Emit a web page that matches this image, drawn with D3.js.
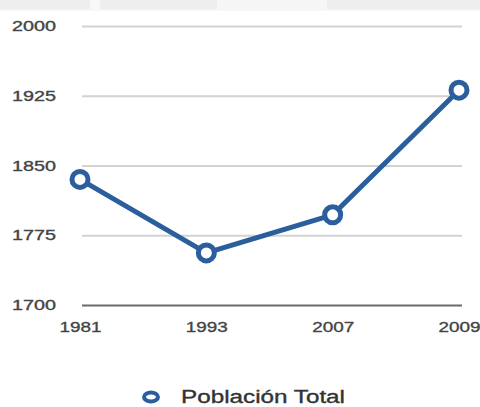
<!DOCTYPE html>
<html>
<head>
<meta charset="utf-8">
<script src="https://cdn.jsdelivr.net/npm/d3@7"></script>
<style>
  html, body { margin: 0; padding: 0; background: #fff; }
  svg { display: block; }
</style>
</head>
<body>
<svg id="chart" width="480" height="407"></svg>
<script>
// ---- data ----
const categories = ["1981", "1993", "2007", "2009"];
const poblacionTotal = [1835, 1756, 1797, 1931];
const yTicks = [1700, 1775, 1850, 1925, 2000];
const seriesName = "Población Total";

// ---- layout ----
const svg = d3.select("#chart");
const W = 480, H = 407;
const blue = "#2b5e9c";
const font = "'Liberation Sans', Arial, Helvetica, sans-serif";

// faint top band
const band = svg.append("g");
band.append("rect").attr("x", 0).attr("y", 0).attr("width", W).attr("height", 9).attr("fill", "#eeeeee");
band.append("rect").attr("x", 90).attr("y", 0).attr("width", 10).attr("height", 9).attr("fill", "#f8f8f8");
band.append("rect").attr("x", 217).attr("y", 0).attr("width", 110).attr("height", 9).attr("fill", "#f6f6f6");
band.append("rect").attr("x", 0).attr("y", 9).attr("width", W).attr("height", 2).attr("fill", "#f7f7f7");

const x = d3.scalePoint().domain(categories).range([80, 459]);
const y = d3.scaleLinear().domain([1700, 2000]).range([305, 26]);

// gridlines
const grid = svg.append("g")
  .attr("transform", "translate(82,0)")
  .call(d3.axisLeft(y).tickValues(yTicks).tickSize(-380).tickFormat(""));
grid.select(".domain").remove();
grid.selectAll(".tick line")
  .attr("stroke", d => d === 1700 ? "#6a6a6a" : "#d2d2d2")
  .attr("stroke-width", 2);

// y labels
const yLab = svg.append("g");
yTicks.forEach(t => {
  yLab.append("text")
    .attr("x", 12).attr("y", y(t) + 5)
    .attr("font-family", font).attr("font-size", 14)
    .attr("fill", "#444").attr("stroke", "#444").attr("stroke-width", 0.35)
    .attr("textLength", 44).attr("lengthAdjust", "spacingAndGlyphs")
    .text(t);
});

// x labels
const xAxis = svg.append("g")
  .attr("transform", "translate(0,306)")
  .call(d3.axisBottom(x).tickSize(0).tickPadding(0));
xAxis.select(".domain").remove();
xAxis.selectAll(".tick text")
  .attr("y", 26)
  .attr("dy", 0)
  .attr("font-family", font).attr("font-size", 15)
  .attr("fill", "#444").attr("stroke", "#444").attr("stroke-width", 0.35)
  .attr("textLength", 42).attr("lengthAdjust", "spacingAndGlyphs");

// line
const data = categories.map((c, i) => ({ c, v: poblacionTotal[i] }));
svg.append("path")
  .datum(data)
  .attr("fill", "none")
  .attr("stroke", blue)
  .attr("stroke-width", 5)
  .attr("stroke-linejoin", "round")
  .attr("d", d3.line().x(d => x(d.c)).y(d => y(d.v)));

// markers
svg.selectAll("circle.pt")
  .data(data)
  .enter().append("circle")
  .attr("class", "pt")
  .attr("cx", d => x(d.c)).attr("cy", d => y(d.v))
  .attr("r", 8)
  .attr("fill", "#fff")
  .attr("stroke", blue)
  .attr("stroke-width", 5);

// legend
const lg = svg.append("g");
lg.append("ellipse")
  .attr("cx", 151).attr("cy", 397).attr("rx", 7).attr("ry", 4.5)
  .attr("fill", "#fff").attr("stroke", blue).attr("stroke-width", 4);
lg.append("text")
  .attr("x", 181).attr("y", 403)
  .attr("font-family", font).attr("font-size", 18)
  .attr("fill", "#333").attr("stroke", "#333").attr("stroke-width", 0.35)
  .attr("textLength", 164).attr("lengthAdjust", "spacingAndGlyphs")
  .text(seriesName);
</script>
</body>
</html>
